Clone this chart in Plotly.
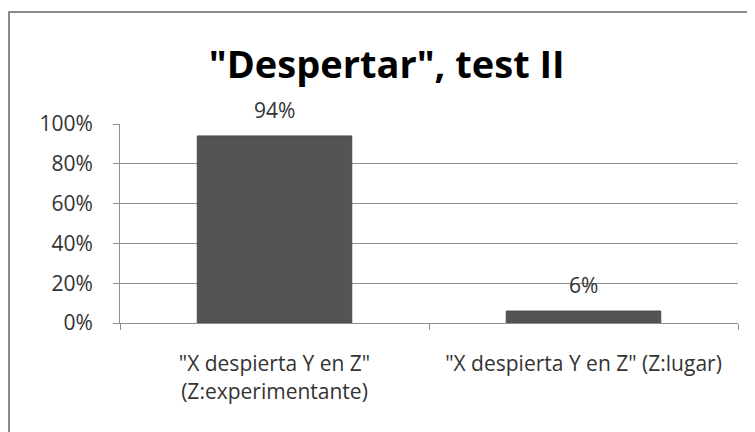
import plotly.graph_objects as go

categories = ['"X despierta Y en Z"<br>(Z:experimentante)', '"X despierta Y en Z" (Z:lugar)']
values = [0.94, 0.06]
labels = ["94%", "6%"]
title_text = '"Despertar", test II'
y_ticks = [0, 0.2, 0.4, 0.6, 0.8, 1.0]

FONT = "Open Sans, sans-serif"
TXT = "#333333"
GRID = "#8e8e8e"

fig = go.Figure()
fig.add_trace(go.Bar(
    x=categories, y=values,
    marker=dict(color="#545454", line=dict(color="#4a4a4a", width=1)),
    width=0.5, hoverinfo="x+y",
))

for c, v, t in zip(categories, values, labels):
    fig.add_annotation(x=c, y=v, text=t, showarrow=False, yanchor="middle",
                       yshift=26, font=dict(family=FONT, size=21, color=TXT))

# page offset: browser body margin of 8px
W, H = 747, 424
fig.update_layout(
    width=W, height=H,
    margin=dict(l=112, r=17, t=116, b=109, autoexpand=False),
    paper_bgcolor="white", plot_bgcolor="white",
    showlegend=False,
    title=dict(text="<b>" + title_text + "</b>", x=0.507, xanchor="center",
               y=0.866, yanchor="middle", xref="container", yref="container",
               font=dict(family=FONT, size=38, color="black")),
    font=dict(family=FONT, color=TXT),
)
fig.update_yaxes(range=[0, 1], tickvals=y_ticks, tickformat=".0%",
                 showgrid=True, gridcolor=GRID, gridwidth=1,
                 showline=True, linecolor=GRID, ticks="outside", ticklen=6,
                 tickcolor=GRID, tickfont=dict(size=21, color=TXT),
                 ticklabelstandoff=16, zeroline=False)
fig.update_xaxes(showline=True, linecolor=GRID, ticks="outside", tickson="boundaries",
                 ticklen=6, tickcolor=GRID, tickfont=dict(size=21, color=TXT),
                 ticklabelstandoff=22)

fig.add_shape(type="rect", xref="paper", yref="paper",
              x0=(1 - 112) / 618, x1=1.2, y0=-1.0, y1=1 + 112 / 199,
              line=dict(color="#8a8a8a", width=2), fillcolor="rgba(0,0,0,0)", layer="above")

fig.write_html("out.html")
